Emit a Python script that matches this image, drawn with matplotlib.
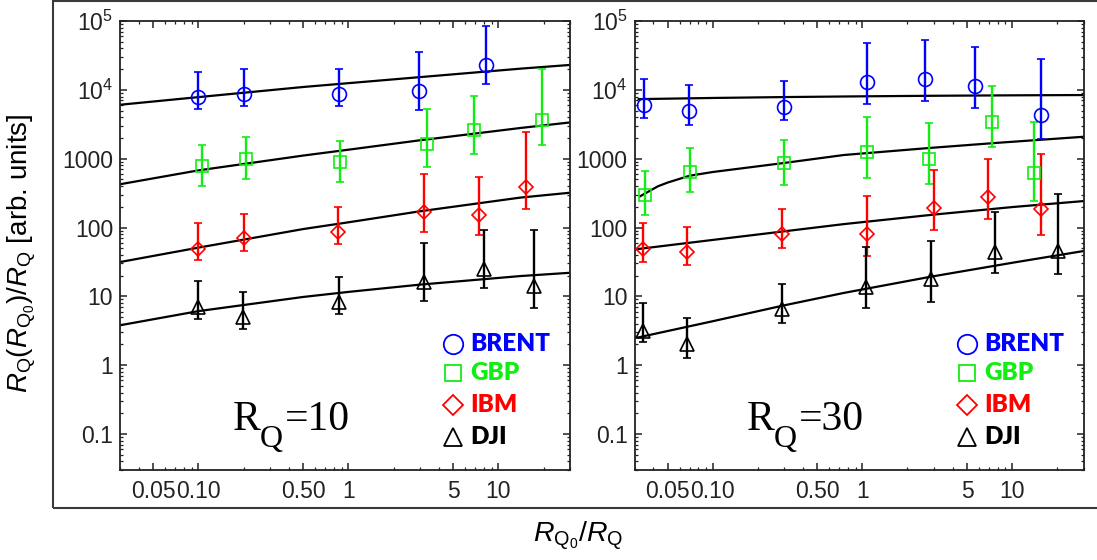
import numpy as np
import matplotlib
matplotlib.use('Agg')
import matplotlib.pyplot as plt
from matplotlib.ticker import FixedLocator, FixedFormatter, LogLocator, NullFormatter
from matplotlib.patches import Rectangle

plt.rcParams['font.family'] = ['Liberation Sans', 'DejaVu Sans']
plt.rcParams['mathtext.fontset'] = 'custom'
plt.rcParams['mathtext.rm'] = 'Liberation Sans'
plt.rcParams['mathtext.it'] = 'Liberation Sans:italic'
plt.rcParams['mathtext.bf'] = 'Liberation Sans:bold'

# ---------------- data ----------------
series_names = ['BRENT', 'GBP', 'IBM', 'DJI']
series_colors = ['#0000ff', '#11ee11', '#ff0000', '#000000']
series_markers = ['o', 's', 'D', '^']
panel_titles = ['10', '30']

# R_Q = 10 panel
l_brent_x = [0.10, 0.20, 0.87, 2.94, 8.3]
l_brent_y = [7840, 8700, 8600, 9500, 23000]
l_brent_hi = [18200, 20100, 20100, 35200, 86000]
l_brent_lo = [5250, 5730, 5860, 5030, 12300]

l_gbp_x = [0.105, 0.208, 0.88, 3.32, 6.84, 19.4]
l_gbp_y = [790, 975, 885, 1650, 2570, 3675]
l_gbp_hi = [1596, 2036, 1830, 5270, 8130, 20100]
l_gbp_lo = [400, 505, 459, 759, 1170, 1578]

l_ibm_x = [0.10, 0.20, 0.85, 3.18, 7.45, 15.3]
l_ibm_y = [49.5, 69.8, 87, 170, 153, 393]
l_ibm_hi = [116, 159, 198, 600, 545, 2400]
l_ibm_lo = [33.6, 45.2, 58.3, 86.5, 79, 187]

l_dji_x = [0.10, 0.198, 0.86, 3.2, 8.0, 17.3]
l_dji_y = [7.0, 5.0, 8.3, 16.4, 24.6, 14.1]
l_dji_hi = [16.7, 11.4, 19.2, 60, 91, 91]
l_dji_lo = [4.75, 3.33, 5.5, 8.65, 13.0, 6.86]

l_fit_x = [0.03, 0.1, 0.5, 1, 3, 14, 30]
l_fit_brent = [6070, 7840, 11000, 12500, 15300, 20300, 23000]
l_fit_gbp = [425, 676, 1110, 1350, 1850, 2790, 3360]
l_fit_ibm = [31.5, 51, 95, 119, 172, 272, 320]
l_fit_dji = [3.8, 6.1, 9.8, 11.6, 14.8, 19.7, 22]

# R_Q = 30 panel
r_brent_x = [0.0348, 0.0692, 0.298, 1.07, 2.62, 5.62, 15.7]
r_brent_y = [6070, 4900, 5600, 12800, 14300, 11400, 4320]
r_brent_hi = [14400, 11800, 13500, 47500, 52500, 42000, 28100]
r_brent_lo = [3890, 3110, 3610, 6210, 6940, 5480, 1930]

r_gbp_x = [0.0352, 0.0704, 0.30, 1.07, 2.77, 7.3, 14.1]
r_gbp_y = [301, 648, 876, 1230, 980, 3420, 616]
r_gbp_hi = [652, 1410, 1840, 4020, 3250, 11200, 3400]
r_gbp_lo = [150, 327, 420, 519, 430, 1490, 240]

r_ibm_x = [0.034, 0.0674, 0.288, 1.07, 2.99, 6.93, 15.6]
r_ibm_y = [49.3, 43.9, 81.5, 80, 190, 275, 187]
r_ibm_hi = [117, 102, 187, 291, 693, 991, 1180]
r_ibm_lo = [31.8, 28.2, 50.8, 38.4, 91.4, 131, 79]

r_dji_x = [0.034, 0.0677, 0.288, 1.05, 2.87, 7.73, 20.3]
r_dji_y = [3.14, 2.01, 6.5, 13.8, 17.6, 44.4, 46]
r_dji_hi = [8.1, 4.8, 15.3, 51.9, 63.4, 168, 307]
r_dji_lo = [2.18, 1.29, 4.07, 6.7, 8.4, 21.8, 20.8]

r_fit_brent_x = [0.032, 0.1, 0.3, 1, 3, 10, 30]
r_fit_brent = [7330, 7620, 7850, 8050, 8200, 8320, 8400]
r_fit_gbp_x = [0.0327, 0.043, 0.05, 0.07, 0.1, 0.3, 0.75, 2.8, 8, 30]
r_fit_gbp = [284, 397, 450, 565, 640, 866, 1130, 1430, 1700, 2080]
r_fit_ibm_x = [0.03, 0.1, 0.3, 0.75, 3, 10, 30]
r_fit_ibm = [48, 66, 88, 112, 154, 198, 242]
r_fit_dji_x = [0.0315, 0.1, 0.3, 0.75, 2.87, 10, 30]
r_fit_dji = [2.52, 4.35, 7.4, 11.2, 19.3, 30.7, 45.5]

y_tick_vals = [0.1, 1, 10, 100, 1000, 1e4, 1e5]
y_tick_labels = ['0.1', '1', '10', '100', '1000', r'$\mathregular{10^4}$', r'$\mathregular{10^5}$']
x_tick_vals = [0.05, 0.10, 0.50, 1, 5, 10]
x_tick_labels = ['0.05', '0.10', '0.50', '1', '5', '10']

panels = [
    dict(series=[(l_brent_x, l_brent_y, l_brent_lo, l_brent_hi),
                 (l_gbp_x, l_gbp_y, l_gbp_lo, l_gbp_hi),
                 (l_ibm_x, l_ibm_y, l_ibm_lo, l_ibm_hi),
                 (l_dji_x, l_dji_y, l_dji_lo, l_dji_hi)],
         fits=[(l_fit_x, l_fit_brent), (l_fit_x, l_fit_gbp),
               (l_fit_x, l_fit_ibm), (l_fit_x, l_fit_dji)]),
    dict(series=[(r_brent_x, r_brent_y, r_brent_lo, r_brent_hi),
                 (r_gbp_x, r_gbp_y, r_gbp_lo, r_gbp_hi),
                 (r_ibm_x, r_ibm_y, r_ibm_lo, r_ibm_hi),
                 (r_dji_x, r_dji_y, r_dji_lo, r_dji_hi)],
         fits=[(r_fit_brent_x, r_fit_brent), (r_fit_gbp_x, r_fit_gbp),
               (r_fit_ibm_x, r_fit_ibm), (r_fit_dji_x, r_fit_dji)]),
]

# ---------------- figure ----------------
W, H = 1097, 560
fig = plt.figure(figsize=(W / 100, H / 100), dpi=100)

# outer frame
fig.add_artist(Rectangle((53 / W, (H - 508) / H), (1110 - 53) / W, (508 - 1) / H,
                         transform=fig.transFigure, fill=False,
                         edgecolor='#3a3a3a', linewidth=1.5, clip_on=False))

axes_px = [(120, 570), (634.5, 1083.5)]
ms_data = {'o': 10, 's': 9, 'D': 7, '^': 9.5}
ms_leg = {'o': 14, 's': 12, 'D': 10.5, '^': 13}

for pi, (panel, (xl, xr)) in enumerate(zip(panels, axes_px)):
    ax = fig.add_axes([xl / W, (H - 470) / H, (xr - xl) / W, 449 / H])
    ax.set_xscale('log')
    ax.set_yscale('log')
    ax.set_xlim(0.03, 30)
    ax.set_ylim(0.03, 1e5)

    for fx, fy in panel['fits']:
        ax.plot(fx, fy, color='black', lw=1.6, zorder=2, solid_joinstyle='round')

    for (sx, sy, slo, shi), col, mk in zip(panel['series'], series_colors, series_markers):
        sy_a = np.array(sy)
        yerr = [sy_a - np.array(slo), np.array(shi) - sy_a]
        ax.errorbar(sx, sy, yerr=yerr, fmt=mk, color=col, mfc='none', mec=col,
                    ms=ms_data[mk], mew=1.2, elinewidth=1.7, capsize=2.6,
                    capthick=1.6, zorder=3)

    # legend
    leg_rows = [0.2806, 0.216, 0.1448, 0.0742]
    for name, col, mk, ry in zip(series_names, series_colors, series_markers, leg_rows):
        ax.plot([0.741], [ry], marker=mk, ms=ms_leg[mk], mfc='none', mec=col, mew=1.3,
                transform=ax.transAxes, clip_on=False, zorder=4)
        ax.text(0.779, ry, name, transform=ax.transAxes, color=col,
                fontsize=17.5, fontweight='heavy', family=['Lato', 'Open Sans', 'DejaVu Sans'],
                ha='left', va='center')

    # panel label R_Q = ...
    base = (0.2504, 0.0891)
    serif = ['Liberation Serif', 'DejaVu Serif']
    ax.annotate('R', xy=base, xycoords='axes fraction', fontsize=30, family=serif,
                ha='left', va='baseline')
    ax.annotate('Q', xy=base, xycoords='axes fraction', xytext=(19.5, -12.2),
                textcoords='offset points', fontsize=23, family=serif,
                ha='left', va='baseline')
    ax.annotate('=' + panel_titles[pi], xy=base, xycoords='axes fraction', xytext=(37.5, 0),
                textcoords='offset points', fontsize=30, family=serif,
                ha='left', va='baseline')

    ax.yaxis.set_major_locator(FixedLocator(y_tick_vals))
    ax.yaxis.set_major_formatter(FixedFormatter(y_tick_labels))
    ax.yaxis.set_minor_locator(LogLocator(base=10, subs=np.arange(2, 10)))
    ax.yaxis.set_minor_formatter(NullFormatter())
    ax.xaxis.set_major_locator(FixedLocator(x_tick_vals))
    ax.xaxis.set_major_formatter(FixedFormatter(x_tick_labels))
    ax.xaxis.set_minor_locator(LogLocator(base=10, subs=np.arange(2, 10), numticks=20))
    ax.xaxis.set_minor_formatter(NullFormatter())

    ax.tick_params(which='both', direction='in', top=True, right=True, colors='#222222')
    ax.tick_params(which='major', length=5, width=1.1, labelsize=16.5)
    ax.tick_params(which='minor', length=2.5, width=0.9)
    ax.tick_params(axis='x', which='major', pad=7)
    ax.tick_params(axis='y', which='major', pad=5)
    for sp in ax.spines.values():
        sp.set_linewidth(1.3)
        sp.set_color('#222222')

fig.text(22 / W, 1 - 253 / H, r'$R_\mathregular{Q}(R_{\mathregular{Q}_\mathregular{0}})/R_\mathregular{Q}$ [arb. units]',
         rotation=90, ha='center', va='center', fontsize=20)
fig.text(578 / W, (H - 541) / H, r'$R_{\mathregular{Q}_\mathregular{0}}/R_\mathregular{Q}$',
         ha='center', va='baseline', fontsize=20.5)

fig.savefig('out.png', dpi=100)
